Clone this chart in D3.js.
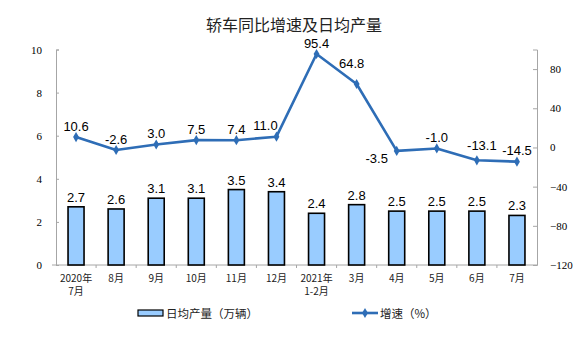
<!DOCTYPE html>
<html><head><meta charset="utf-8">
<script src="https://cdn.jsdelivr.net/npm/d3@7/dist/d3.min.js"></script>
<style>body{margin:0;background:#fff}svg{display:block}</style>
</head><body>
<svg id="c" width="575" height="357"></svg>
<script>
const categories = [["2020年","7月"],["8月"],["9月"],["10月"],["11月"],["12月"],["2021年","1-2月"],["3月"],["4月"],["5月"],["6月"],["7月"]];
const dailyOutput = [2.7,2.6,3.1,3.1,3.5,3.4,2.4,2.8,2.5,2.5,2.5,2.3];
const growth = [10.6,-2.6,3.0,7.5,7.4,11.0,95.4,64.8,-3.5,-1.0,-13.1,-14.5];
const growthLabelPlacement = ["top","top","top","top","top","topleft","top","upleft","bottomleft","top","topright","top"];
const leftTicks = [0,2,4,6,8,10];
const rightTicks = [-120,-80,-40,0,40,80];
const title = "轿车同比增速及日均产量";
const legendBar = "日均产量（万辆）";
const legendLine = "增速（%）";

const svg = d3.select("#c");
const L = 56, R = 537, T = 49.5, B = 265;
const lineColor = "#2E6DB6", barFill = "#99CCFF", axisColor = "#A6A6A6";
const idx = categories.map((d,i)=>i);
const x = d3.scaleBand().domain(idx).range([L,R]).padding(0);
const yL = d3.scaleLinear().domain([0,10]).range([B,T]);
const yR = d3.scaleLinear().domain([-120,100]).range([B,T]);
const cx = i => x(i) + x.bandwidth()/2;

svg.append("text").attr("x",294).attr("y",30.5).attr("text-anchor","middle")
  .attr("font-family","'Noto Sans CJK SC',sans-serif").attr("font-size",16).attr("fill","#222").text(title);

// left axis
const gl = svg.append("g").attr("transform",`translate(${L},0)`)
  .call(d3.axisLeft(yL).tickValues(leftTicks).tickSize(-3).tickPadding(14).tickFormat(d3.format("d")));
gl.select(".domain").attr("stroke",axisColor);
gl.selectAll(".tick line").attr("stroke",axisColor);
gl.selectAll("text").attr("font-family","'Liberation Serif',serif").attr("font-size",11).attr("fill","#000");

// right axis
const gr = svg.append("g").attr("transform",`translate(${R},0)`)
  .call(d3.axisRight(yR).tickValues(rightTicks).tickSize(-4).tickPadding(13).tickFormat(d3.format("d")));
gr.select(".domain").attr("stroke",axisColor);
gr.selectAll(".tick line").attr("stroke",axisColor);
gr.selectAll("text").attr("font-family","'Liberation Serif',serif").attr("font-size",11).attr("fill","#000");

// x axis
const gx = svg.append("g").attr("transform",`translate(0,${B})`);
gx.append("line").attr("x1",L-4).attr("x2",R).attr("stroke",axisColor);
gx.selectAll("line.t").data(d3.range(1,categories.length)).join("line").attr("class","t")
  .attr("x1",i=>x(i)).attr("x2",i=>x(i)).attr("y1",0).attr("y2",3).attr("stroke",axisColor);
idx.forEach(i=>{
  categories[i].forEach((s,k)=>{
    gx.append("text").attr("x",cx(i)).attr("y",16.5+k*13.5).attr("text-anchor","middle")
      .attr("font-family","'Noto Sans CJK SC',sans-serif").attr("font-size",10).attr("fill","#222").text(s);
  });
});

// bars
const bw = 16;
svg.append("g").selectAll("rect").data(dailyOutput).join("rect")
  .attr("x",(d,i)=>cx(i)-bw/2).attr("width",bw)
  .attr("y",d=>yL(d)).attr("height",d=>B-yL(d))
  .attr("fill",barFill).attr("stroke","#000").attr("stroke-width",1.6);
svg.append("g").selectAll("text").data(dailyOutput).join("text")
  .attr("x",(d,i)=>cx(i)).attr("y",d=>yL(d)-5).attr("text-anchor","middle")
  .attr("font-family","'Liberation Sans',Arial,sans-serif").attr("font-size",13).attr("fill","#000")
  .text(d=>d.toFixed(1));

// line
const line = d3.line().x((d,i)=>cx(i)).y(d=>yR(d));
svg.append("path").datum(growth).attr("d",line).attr("fill","none")
  .attr("stroke",lineColor).attr("stroke-width",2.6).attr("stroke-linejoin","round");
const diamond = d3.symbol().type(d3.symbolDiamond).size(30);
svg.append("g").selectAll("path").data(growth).join("path")
  .attr("transform",(d,i)=>`translate(${cx(i)},${yR(d)})`).attr("d",diamond).attr("fill",lineColor);
const off = {top:[0,-6.5],topleft:[-11,-7],upleft:[-5,-16],bottomleft:[-20,12],topright:[5,-10]};
svg.append("g").selectAll("text").data(growth).join("text")
  .attr("x",(d,i)=>cx(i)+off[growthLabelPlacement[i]][0])
  .attr("y",(d,i)=>yR(d)+off[growthLabelPlacement[i]][1])
  .attr("text-anchor","middle")
  .attr("font-family","'Liberation Sans',Arial,sans-serif").attr("font-size",13).attr("fill","#000")
  .text(d=>d.toFixed(1));

// legend
const lg = svg.append("g");
lg.append("rect").attr("x",138).attr("y",310).attr("width",25).attr("height",6)
  .attr("fill",barFill).attr("stroke","#000").attr("stroke-width",1.2);
lg.append("text").attr("x",166).attr("y",317.5).attr("font-family","'Noto Sans CJK SC',sans-serif")
  .attr("font-size",11.5).attr("fill","#222").text(legendBar);
lg.append("line").attr("x1",352).attr("x2",378).attr("y1",313).attr("y2",313)
  .attr("stroke",lineColor).attr("stroke-width",2.6);
lg.append("path").attr("transform","translate(365,313)").attr("d",diamond).attr("fill",lineColor);
lg.append("text").attr("x",380).attr("y",317.5).attr("font-family","'Noto Sans CJK SC',sans-serif")
  .attr("font-size",11.5).attr("fill","#222").text(legendLine);
</script>
</body></html>
